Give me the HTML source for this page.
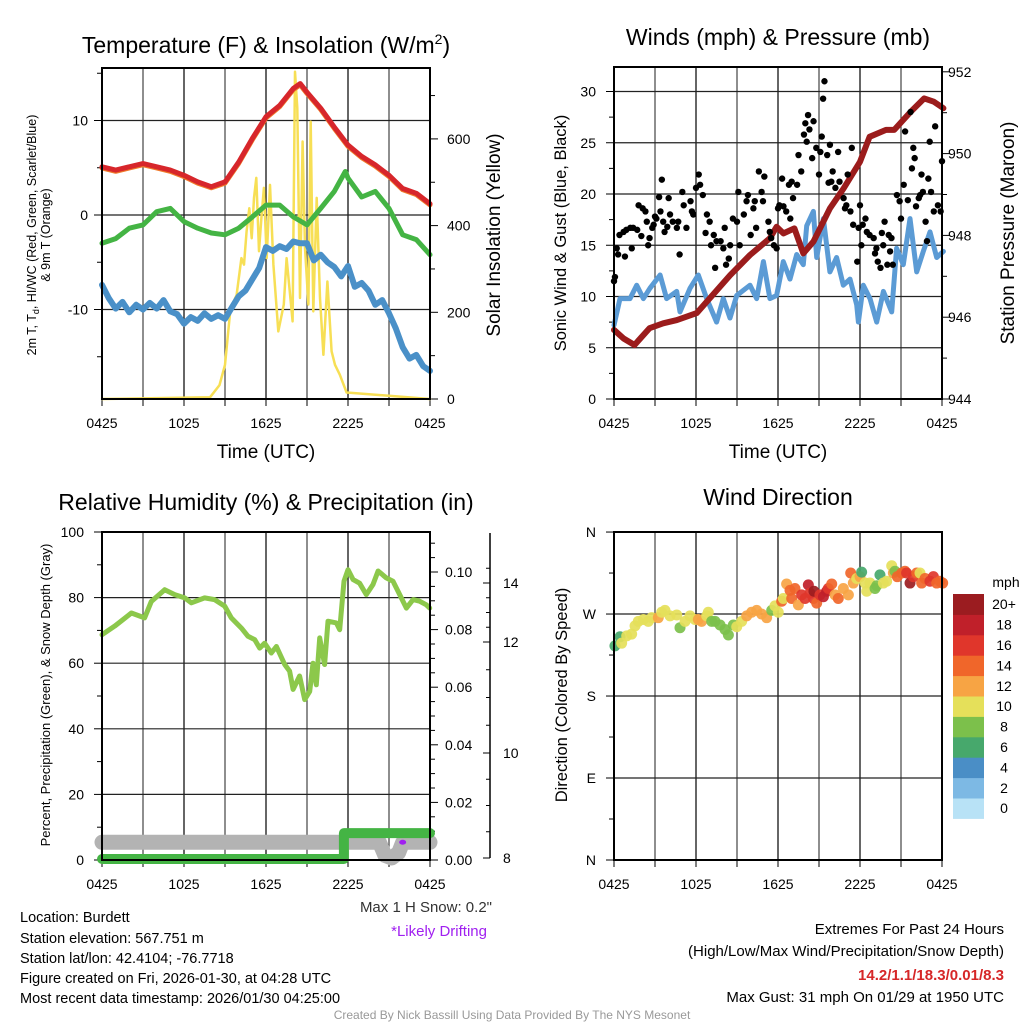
<!DOCTYPE html>
<html><head><meta charset="utf-8">
<style>
html,body{margin:0;padding:0;background:#fff;}
svg{display:block;font-family:"Liberation Sans",Arial,sans-serif;}
</style></head>
<body>
<svg id="c" width="1024" height="1024" viewBox="0 0 1024 1024">
<text x="266" y="53" font-size="23" text-anchor="middle">Temperature (F) &amp; Insolation (W/m<tspan dy="-9" font-size="14">2</tspan><tspan dy="9">)</tspan></text>
<text x="778" y="45" font-size="23" text-anchor="middle">Winds (mph) &amp; Pressure (mb)</text>
<text x="266" y="510" font-size="23" text-anchor="middle">Relative Humidity (%) &amp; Precipitation (in)</text>
<text x="778" y="505" font-size="23" text-anchor="middle">Wind Direction</text>
<text x="266" y="458" font-size="19" text-anchor="middle">Time (UTC)</text>
<text x="778" y="458" font-size="19" text-anchor="middle">Time (UTC)</text>
<text transform="translate(36,235) rotate(-90)" font-size="12.5" text-anchor="middle">2m T, T<tspan font-size="9" dy="3">d</tspan><tspan dy="-3">, HI/WC (Red, Green, Scarlet/Blue)</tspan></text>
<text transform="translate(50,235) rotate(-90)" font-size="12.5" text-anchor="middle">&amp; 9m T (Orange)</text>
<text transform="translate(500,235) rotate(-90)" font-size="19" text-anchor="middle">Solar Insolation (Yellow)</text>
<text transform="translate(566,233) rotate(-90)" font-size="16.5" text-anchor="middle">Sonic Wind &amp; Gust (Blue, Black)</text>
<text transform="translate(1014,233) rotate(-90)" font-size="19" text-anchor="middle">Station Pressure (Maroon)</text>
<text transform="translate(50,695) rotate(-90)" font-size="13" text-anchor="middle">Percent, Precipitation (Green), &amp; Snow Depth (Gray)</text>
<text transform="translate(567,695) rotate(-90)" font-size="16.5" text-anchor="middle">Direction (Colored By Speed)</text>
<text x="492" y="912" font-size="15" text-anchor="end" fill="#333">Max 1 H Snow: 0.2"</text>
<text x="487" y="936" font-size="15" text-anchor="end" fill="#a020f0">*Likely Drifting</text>
<g font-size="14.5">
<text x="20" y="922">Location: Burdett</text>
<text x="20" y="943">Station elevation: 567.751 m</text>
<text x="20" y="963">Station lat/lon: 42.4104; -76.7718</text>
<text x="20" y="983">Figure created on Fri, 2026-01-30, at 04:28 UTC</text>
<text x="20" y="1003">Most recent data timestamp: 2026/01/30 04:25:00</text>
</g>
<g font-size="15" text-anchor="end">
<text x="1004" y="934">Extremes For Past 24 Hours</text>
<text x="1004" y="956">(High/Low/Max Wind/Precipitation/Snow Depth)</text>
<text x="1004" y="980" fill="#d62728" font-weight="bold">14.2/1.1/18.3/0.01/8.3</text>
<text x="1004" y="1002">Max Gust: 31 mph On 01/29 at 1950 UTC</text>
</g>
<text x="512" y="1019" font-size="12" fill="#999" text-anchor="middle">Created By Nick Bassill Using Data Provided By The NYS Mesonet</text>
</svg>
<script>
// ---------- DATA ----------
const xTickLabels = ["0425","1025","1625","2225","0425"];
const tempHours = [0,1,2,3,4,5,6,7,8,9,10,11,12,13,14,14.5,15,16,17,18,19,20,21,22,23,24];
const tempRed = [5.1,4.75,5.1,5.45,5.1,4.75,4.2,3.5,3.0,3.5,5.6,8.1,10.4,11.6,13.4,13.9,13.0,11.3,9.3,7.4,6.2,5.3,4.2,2.8,2.3,1.2];
const dewHours = [0,1,2,3,4,5,6,7,8,9,10,11,12,13,14,15,16,17,17.8,18,19,20,21,22,23,24];
const dewGreen = [-3.0,-2.5,-1.4,-1.05,0.35,0.7,-0.7,-1.4,-1.9,-2.1,-1.4,-0.2,1.05,1.05,-0.2,-1.05,0.7,2.5,4.6,3.9,1.9,2.5,0.7,-2.1,-2.6,-4.2];
const windChillHours = [0,0.5,1,1.5,2,2.5,3,3.5,4,4.5,5,5.5,6,6.5,7,7.5,8,8.5,9,9.5,10,10.5,11,11.5,12,12.5,13,13.5,14,14.5,15,15.5,16,16.5,17,17.5,18,18.5,19,19.5,20,20.5,21,21.5,22,22.5,23,23.5,24];
const windChillBlue = [-7.4,-8.8,-9.9,-9.2,-10.3,-9.5,-10.0,-9.3,-9.9,-9.0,-10.2,-10.5,-11.5,-10.8,-11.2,-10.4,-11.0,-10.6,-11.0,-9.8,-8.6,-8.0,-6.8,-5.6,-3.4,-3.8,-3.3,-3.6,-2.8,-3.0,-3.0,-4.8,-4.2,-5.0,-5.5,-6.5,-5.4,-7.6,-7.2,-8.0,-9.5,-9.0,-10.4,-12.0,-14.0,-15.2,-14.8,-16.0,-16.5];
const solarHours = [0,7.9,8.6,9.0,9.4,9.85,10.2,10.39,10.58,10.78,10.95,11.12,11.29,11.49,11.66,11.85,12.05,12.29,12.54,12.9,13.3,13.51,13.95,14.12,14.29,14.49,14.68,14.85,15.1,15.27,15.46,15.71,15.95,16.2,16.49,16.8,17.05,17.4,17.9,24];
const solarValues = [0,4,32,79,209,240,325,310,387,440,371,464,510,341,418,487,325,494,310,156,218,325,179,755,671,233,594,348,218,640,202,464,233,102,271,110,79,56,15,0,0];
const wdHours = [0,0.7,1.5,2.6,3.6,4.6,6.05,7.0,8.5,9.95,11.4,11.9,12.4,13.2,13.85,14.6,15.8,16.8,18.0,18.7,19.9,20.5,21.7,22.7,23.4,24.1];
const pressure = [945.69,945.48,945.32,945.73,945.85,945.93,946.10,946.46,947.03,947.52,947.93,948.21,948.05,948.17,947.56,947.85,948.66,949.15,949.80,950.41,950.58,950.58,951.02,951.35,951.27,951.11];
const windHours = [0,0.44,1.17,1.66,2.15,2.63,3.37,3.85,4.59,4.83,5.56,6.17,6.78,7.51,8.0,8.49,8.98,9.95,10.44,10.93,11.41,11.9,12.39,12.88,13.37,13.85,14.1,14.59,14.83,15.32,15.8,16.29,16.78,17.27,17.76,17.88,18.24,18.73,19.22,19.71,20.32,20.68,21.17,21.66,22.15,22.63,23.12,23.61,24.1];
const windSpeed = [7.2,9.8,9.8,11.1,9.8,10.8,12.1,9.8,10.5,8.5,10.8,12.1,9.8,7.5,9.8,7.9,10.1,11.1,9.8,13.4,9.8,10.1,13.4,11.7,14.1,13.1,16.9,18.3,13.8,17.6,12.4,13.8,11.1,11.7,9.2,7.5,11.1,9.8,7.5,10.5,8.5,14.7,13.1,17.6,12.4,14.4,16.3,13.8,14.4];
const gustHours = [0.0,0.07,0.2,0.3,0.4,0.7,0.8,0.9,1.2,1.3,1.4,1.7,1.8,2.0,2.1,2.3,2.4,2.5,2.6,2.8,2.9,3.0,3.1,3.3,3.4,3.5,3.6,3.7,3.9,4.0,4.1,4.3,4.6,4.7,4.8,5.0,5.1,5.3,5.6,5.7,5.8,6.0,6.2,6.3,6.5,6.7,6.8,7.0,7.1,7.3,7.4,7.5,7.8,8.0,8.1,8.2,8.4,8.5,8.7,9.0,9.1,9.2,9.5,9.7,9.8,10.0,10.2,10.3,10.4,10.6,10.8,10.9,11.0,11.3,11.4,11.5,11.7,11.9,12.0,12.1,12.3,12.4,12.6,12.8,12.9,13.0,13.1,13.4,13.5,13.7,13.9,14.0,14.1,14.2,14.3,14.5,14.6,14.8,15.0,15.1,15.2,15.3,15.4,15.6,15.7,15.8,15.9,16.0,16.2,16.4,16.5,16.8,16.9,17.0,17.1,17.3,17.4,17.5,17.8,17.9,18.0,18.1,18.2,18.4,18.5,18.7,19.0,19.1,19.2,19.3,19.5,19.6,19.7,19.8,20.0,20.1,20.2,20.3,20.4,20.7,20.9,21.0,21.2,21.3,21.5,21.7,21.8,21.9,22.0,22.1,22.3,22.4,22.5,22.6,22.8,22.9,23.0,23.1,23.2,23.4,23.5,23.7,23.9,24.0];
const gustValues = [11.5,11.9,14.7,14.1,16.0,16.3,13.9,16.5,16.7,14.7,16.7,16.5,18.9,15.9,18.6,18.3,17.3,15.0,15.7,16.7,17.0,17.8,17.6,19.7,18.3,21.4,17.3,16.3,16.8,19.6,18.0,17.3,16.7,17.3,14.1,20.2,18.9,16.7,19.3,18.3,18.0,20.6,21.9,20.9,19.9,16.2,18.0,17.3,15.0,16.0,12.8,15.4,15.4,14.7,16.7,13.1,13.7,15.0,17.6,17.3,20.2,15.0,18.0,19.3,19.9,16.0,18.6,19.3,16.7,22.2,20.2,19.3,21.7,17.3,16.3,15.7,15.0,14.7,18.6,18.9,21.5,18.8,18.3,20.9,17.6,21.2,19.6,20.9,23.8,22.2,25.8,26.9,25.1,27.7,26.3,23.5,27.1,24.5,21.9,24.1,25.6,29.3,31.0,23.8,21.1,24.8,21.2,22.2,20.6,24.1,21.2,19.6,18.6,18.9,21.9,18.3,24.5,17.0,13.4,16.7,18.9,15.0,17.0,17.6,16.3,16.0,15.7,14.2,14.7,13.4,12.8,16.2,15.0,17.3,13.1,16.0,14.4,15.7,13.1,19.9,19.3,17.6,20.9,26.1,19.4,28.0,22.5,24.5,23.5,18.8,19.6,19.9,21.9,20.2,17.3,15.4,21.5,25.1,20.2,18.3,26.6,18.9,18.3,23.2];
const rhHours = [0,0.93,2.15,3.12,3.61,4.59,5.32,6.05,6.54,7.51,8.24,8.98,9.46,10.2,10.68,11.17,11.54,11.9,12.39,12.76,13.37,13.73,13.98,14.46,14.83,15.2,15.44,15.68,15.93,16.29,16.54,17.15,17.39,17.71,18.0,18.37,18.85,19.34,19.83,20.2,20.8,21.29,21.78,22.27,22.76,23.24,23.73,23.98];
const rhValues = [68.7,71.3,75.3,73.8,78.8,82.4,80.9,79.9,78.4,79.9,79.4,77.4,73.8,70.7,68.2,67.2,64.6,66.1,63.1,65.1,59.6,57.6,52.0,56.1,48.9,51.4,60.0,53.4,67.7,59.6,72.8,72.3,70.2,85.0,88.5,85.5,84.4,80.9,84.0,88.1,86.0,85.0,80.9,76.8,79.4,78.9,77.8,76.8];
const precipHours = [0,17.7,17.7,24];
const precipValues = [0.00,0.00,0.009,0.009];
const snowHours = [0,20.3,20.7,21.2,21.7,22.0,24];
const snowValues = [8.3,8.3,8.05,8.0,8.1,8.3,8.3];
const snowTicks = [8,10,12,14];
const dirHours = [0.07,0.44,0.56,0.93,1.29,1.54,1.78,2.15,2.51,2.76,3.24,3.49,3.73,4.1,4.59,4.83,5.2,5.56,5.93,6.17,6.41,6.78,6.9,7.15,7.39,7.76,8.12,8.37,8.73,8.98,9.34,9.71,10.07,10.44,10.8,11.17,11.54,11.78,12.02,12.27,12.39,12.63,12.88,13.0,13.24,13.49,13.73,13.98,14.22,14.34,14.59,14.63,14.83,15.07,15.32,15.56,15.68,15.93,16.17,16.41,16.78,17.15,17.32,17.51,17.76,18.0,18.12,18.37,18.49,18.73,19.1,19.22,19.46,19.71,19.95,20.32,20.44,20.56,20.73,21.05,21.29,21.41,21.66,21.9,22.15,22.39,22.51,22.76,23.12,23.37,23.61,23.85,24.05];
const dirValues = [235,245,238,246,248,257,262,264,262,266,266,272,274,268,269,255,262,268,264,264,262,268,272,262,262,258,253,247,258,256,262,268,272,274,270,266,274,279,272,284,287,303,296,287,298,280,291,287,302,293,287,295,282,291,289,295,298,303,291,287,298,291,315,304,309,311,316,304,295,304,298,301,313,304,306,323,315,317,311,315,317,315,304,311,315,315,304,309,306,311,304,306,304];
const dirSpeed = [6,7,10,10,10,10,10,10,10,10,12,10,10,10,10,8,10,10,10,12,12,10,10,8,8,8,8,8,8,10,10,12,12,12,12,12,8,10,10,14,10,12,14,14,14,12,16,16,18,16,16,20,14,16,18,18,16,14,12,14,12,12,14,12,10,12,6,10,10,10,8,8,6,10,10,10,12,8,14,14,14,16,20,16,14,10,14,14,16,16,14,14,14];
const speedLabels = ["0","2","4","6","8","10","12","14","16","18","20+"];
const speedColors = ["#b8e2f6","#7db9e4","#4a8ec6","#47a86c","#7cc04b","#e5e05a","#f7a444","#f0662a","#e0362b","#c0202a","#9b1c20"];

// ---------- HELPERS ----------
const NS="http://www.w3.org/2000/svg";
const svg=document.getElementById('c');
function mk(tag,attrs,parent){const e=document.createElementNS(NS,tag);for(const k in attrs)e.setAttribute(k,attrs[k]);(parent||svg).appendChild(e);return e;}
function poly(xs,ys,fx,fy,stroke,w,parent){return mk('polyline',{points:xs.map((h,i)=>fx(h).toFixed(1)+','+fy(ys[i]).toFixed(1)).join(' '),fill:'none',stroke:stroke,'stroke-width':w,'stroke-linejoin':'round','stroke-linecap':'round'},parent);}

function panel(name){
  const g=mk('g',{});
  
  
  return g;
}
function xAxis(g,L,R,B,labY){
  const X=h=>L+h*(R-L)/24;
  for(let h=0;h<=24;h+=3){
    mk('line',{x1:X(h),x2:X(h),y1:B,y2:B+7,stroke:'#000','stroke-width':1},g);
  }
  xTickLabels.forEach((s,i)=>{
    const t=mk('text',{x:X(i*6),y:labY,'font-size':14,'text-anchor':'middle'},g);
    t.textContent=s;
    
    
  });
  return X;
}
function vgrid(g,X,T,B){for(let h=3;h<24;h+=3)mk('line',{x1:X(h),x2:X(h),y1:T,y2:B,stroke:(h%6==0)?'#000':'#444','stroke-width':1.2},g);}
function hline(g,L,R,y){mk('line',{x1:L,x2:R,y1:y,y2:y,stroke:'#222','stroke-width':1.2},g);}
function frame(g,L,T,R,B){const f=mk('rect',{x:L,y:T,width:R-L,height:B-T,fill:'none',stroke:'#000','stroke-width':2},g);
  
  }
function ytick(g,x,y,len){mk('line',{x1:x,x2:x+len,y1:y,y2:y,stroke:'#000','stroke-width':1},g);}
function ylab(g,x,y,s,anchor,name){const t=mk('text',{x:x,y:y+5,'font-size':14,'text-anchor':anchor},g);t.textContent=s;
  
  }

// ---------- PANEL 1 ----------
(function(){
  const L=102,T=68,R=430,B=399;
  const g=panel('temperature-panel');
  const X=xAxis(g,L,R,B,428);
  const Ty=v=>215-9.45*v, Sy=w=>399-0.4335*w;
  vgrid(g,X,T,B);
  [10,0,-10].forEach(v=>hline(g,L,R,Ty(v)));
  for(let v=-15;v<=15;v+=5){ytick(g,L,Ty(v),v%10==0?-8:-5);}
  [10,0,-10].forEach(v=>ylab(g,L-14,Ty(v),String(v),'end','temp-tick-label'));
  for(let w=0;w<=700;w+=100){ytick(g,R,Sy(w),w%200==0?8:5);}
  [0,200,400,600].forEach(w=>ylab(g,R+17,Sy(w),String(w),'start','solar-tick-label'));
  const s=poly(solarHours,solarValues,X,Sy,'#f7df55',2.5,g);
  
  
  const b=poly(windChillHours,windChillBlue,X,Ty,'#4a90c8',6,g);
  
  
  const gr=poly(dewHours,dewGreen,X,Ty,'#44b444',5,g);
  
  
  const o=poly(tempHours,tempRed,X,v=>Ty(v)+1.2,'#f07a2a',5,g);
  
  
  const r=poly(tempHours,tempRed,X,Ty,'#d7262b',5,g);
  
  
  frame(g,L,T,R,B);
})();

// ---------- PANEL 2 ----------
(function(){
  const L=614,T=67,R=942,B=399;
  const g=panel('winds-panel');
  const X=xAxis(g,L,R,B,428);
  const Wy=v=>399-10.25*v, Py=p=>399-(p-944)*40.9;
  vgrid(g,X,T,B);
  for(let v=5;v<=30;v+=5)hline(g,L,R,Wy(v));
  for(let v=0;v<=32;v+=2.5){ytick(g,L,Wy(v),v%5==0?-8:-5);}
  for(let v=0;v<=30;v+=5)ylab(g,L-18,Wy(v),String(v),'end','wind-tick-label');
  for(let p=944;p<=952;p+=1){ytick(g,R,Py(p),p%2==0?8:5);}
  for(let p=944;p<=952;p+=2)ylab(g,R+6,Py(p),String(p),'start','pressure-tick-label');
  const w=poly(windHours,windSpeed,X,Wy,'#5b9bd5',5,g);
  
  
  const p=poly(wdHours,pressure,X,Py,'#9b1c1c',6,g);
  
  
  gustHours.forEach((h,i)=>{
    const c=mk('circle',{cx:X(h),cy:Wy(gustValues[i]),r:3.2,fill:'#000'},g);
    
    
  });
  frame(g,L,T,R,B);
})();

// ---------- PANEL 3 ----------
(function(){
  const L=102,T=532,R=430,B=860;
  const g=panel('humidity-panel');
  const X=xAxis(g,L,R,B,889);
  const Ry=v=>860-3.28*v, PrY=p=>860-p*2880;
  const snowPix=[858,753,642,583];
  const Sy=v=>{for(let i=0;i<3;i++){if(v<=snowTicks[i+1]||i==2){const f=(v-snowTicks[i])/(snowTicks[i+1]-snowTicks[i]);return snowPix[i]+f*(snowPix[i+1]-snowPix[i]);}}};
  vgrid(g,X,T,B);
  for(let v=20;v<=80;v+=20)hline(g,L,R,Ry(v));
  for(let v=0;v<=100;v+=10){ytick(g,L,Ry(v),v%20==0?-8:-5);}
  for(let v=0;v<=100;v+=20)ylab(g,L-18,Ry(v),String(v),'end','rh-tick-label');
  for(let p=0;p<=0.113;p+=0.005){ytick(g,R,PrY(p),Math.round(p*1000)%20==0?8:5);}
  [0,0.02,0.04,0.06,0.08,0.10].forEach(p=>ylab(g,R+15,PrY(p),p.toFixed(2),'start','precip-tick-label'));
  mk('line',{x1:490,x2:490,y1:533,y2:858,stroke:'#000','stroke-width':1.5},g);
  for(let s=8;s<=14.5;s+=0.5){ytick(g,490,Sy(s),s%2==0?-7:-4);}
  snowTicks.forEach(s=>ylab(g,503,Sy(s),String(s),'start','snow-tick-label'));
  const sn=poly(snowHours,snowValues,X,Sy,'#b3b3b3',15,g);
  
  
  const dr=mk('ellipse',{cx:X(22.0),cy:Sy(8.3),rx:3.5,ry:2.5,fill:'#a020f0'},g);
  
  
  const pr=poly(precipHours,precipValues,X,v=>PrY(v)-1,'#44b444',10,g);
  
  
  const rh=poly(rhHours,rhValues,X,Ry,'#8cc84b',5,g);
  
  
  frame(g,L,T,R,B);
})();

// ---------- PANEL 4 ----------
(function(){
  const L=614,T=532,R=942,B=860;
  const g=panel('wind-direction-panel');
  const X=xAxis(g,L,R,B,889);
  const Dy=d=>860-d*0.911;
  vgrid(g,X,T,B);
  [90,180,270].forEach(d=>hline(g,L,R,Dy(d)));
  for(let d=0;d<=360;d+=45){ytick(g,L,Dy(d),d%90==0?-8:-5);}
  ["N","E","S","W","N"].forEach((s,i)=>ylab(g,L-18,Dy(i*90),s,'end','direction-tick-label'));
  dirHours.forEach((h,i)=>{
    const idx=Math.min(10,Math.floor(dirSpeed[i]/2));
    const c=mk('circle',{cx:X(h),cy:Dy(dirValues[i]),r:5.5,fill:speedColors[idx],'fill-opacity':0.92},g);
    
    
  });
  frame(g,L,T,R,B);
  const cb=mk('g',{});
  
  
  const mt=mk('text',{x:1006,y:587,'font-size':14,'text-anchor':'middle'},cb);mt.textContent='mph';
  const top=594,hgt=20.4;
  speedLabels.forEach((s,i)=>{
    const k=10-i;
    const y=top+k*hgt;
    const rc=mk('rect',{x:953,y:y,width:31,height:hgt+0.5,fill:speedColors[i]},cb);
    
    
    const t=mk('text',{x:1004,y:y+hgt/2+5,'font-size':14,'text-anchor':'middle'},cb);
    t.textContent=s;
    
    
  });
})();
</script>
</body></html>
